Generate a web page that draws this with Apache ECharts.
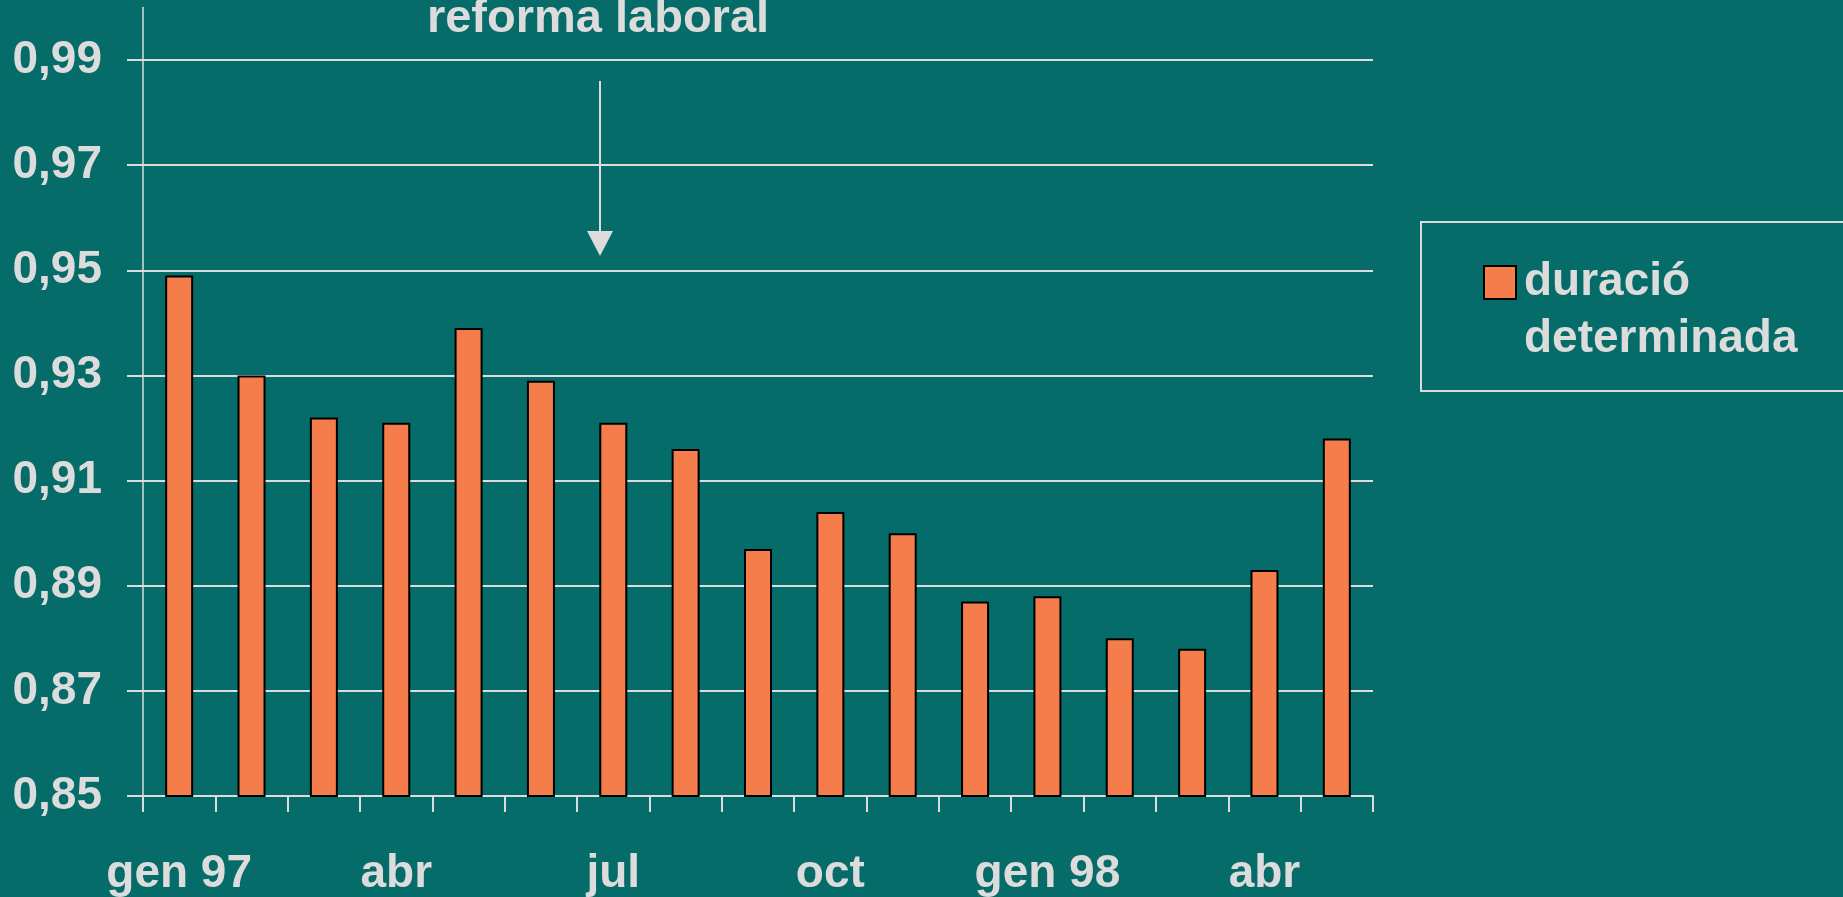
<!DOCTYPE html>
<html>
<head>
<meta charset="utf-8">
<script src="https://cdn.jsdelivr.net/npm/echarts@6/dist/echarts.min.js"></script>
<style>
  html, body { margin: 0; padding: 0; background: #066c69; }
  #main { width: 1843px; height: 897px; }
</style>
</head>
<body>
<div id="main"></div>
<script>
var months = ['gen 97', 'feb', 'mar', 'abr', 'mai', 'jun', 'jul', 'ago', 'set',
              'oct', 'nov', 'des', 'gen 98', 'feb', 'mar', 'abr', 'mai'];
var duracio = [0.949, 0.930, 0.922, 0.921, 0.939, 0.929, 0.921, 0.916, 0.897,
               0.904, 0.900, 0.887, 0.888, 0.880, 0.878, 0.893, 0.918];
var seriesName = 'duració\ndeterminada';
var titleText = 'reforma laboral';

var fontFam = '"Liberation Sans", Arial, sans-serif';
var light = '#dcdcdc';

var myChart = echarts.init(document.getElementById('main'));
var option = {
    backgroundColor: '#066c69',
    animation: false,
    textStyle: { fontFamily: fontFam },
    grid: { left: 143, right: 470, top: 7.4, bottom: 101 },
    legend: {
        data: [seriesName],
        left: 1478,
        top: 192,
        orient: 'vertical',
        itemWidth: 32,
        itemHeight: 33,
        icon: 'rect',
        // blank first line so the icon lines up with "duració"
        formatter: function (name) { return ' \n' + name; },
        textStyle: {
            color: light,
            fontSize: 46,
            fontWeight: 'bold',
            fontFamily: fontFam,
            lineHeight: 57,
            padding: [0, 0, 0, 3]
        }
    },
    xAxis: {
        type: 'category',
        data: months,
        axisLine: { lineStyle: { color: light, width: 2 } },
        axisTick: { show: true, interval: 0, length: 16, lineStyle: { color: light, width: 2 } },
        axisLabel: {
            interval: 2,
            color: light,
            fontSize: 46,
            fontWeight: 'bold',
            fontFamily: fontFam,
            margin: 55
        }
    },
    yAxis: {
        type: 'value',
        min: 0.85,
        max: 1.0,
        interval: 0.02,
        axisLine: { show: true, lineStyle: { color: light, width: 1.5 } },
        axisTick: { show: true, length: 16, lineStyle: { color: light, width: 2 } },
        axisLabel: {
            showMaxLabel: false,
            color: light,
            fontSize: 46,
            fontWeight: 'bold',
            fontFamily: fontFam,
            margin: 41,
            formatter: function (v) { return v.toFixed(2).replace('.', ','); }
        },
        splitLine: { show: true, showMaxLine: false, lineStyle: { color: light, width: 2 } }
    },
    series: [
        {
            name: seriesName,
            type: 'bar',
            data: duracio,
            barWidth: 28,
            itemStyle: { color: '#f57d4b', borderColor: '#000', borderWidth: 2 }
        }
    ],
    graphic: [
        {
            type: 'text',
            x: 598, y: 19,
            style: {
                text: titleText,
                fill: light,
                font: 'bold 47px ' + fontFam,
                align: 'center',
                verticalAlign: 'middle'
            }
        },
        {
            type: 'line',
            shape: { x1: 600, y1: 81, x2: 600, y2: 234 },
            style: { stroke: light, lineWidth: 2 }
        },
        {
            type: 'polygon',
            shape: { points: [[587, 231], [613, 231], [600, 256]] },
            style: { fill: light }
        },
        {
            type: 'rect',
            shape: { x: 1421, y: 222, width: 500, height: 169 },
            style: { fill: 'none', stroke: light, lineWidth: 2 }
        }
    ]
};
myChart.setOption(option);
</script>
</body>
</html>
